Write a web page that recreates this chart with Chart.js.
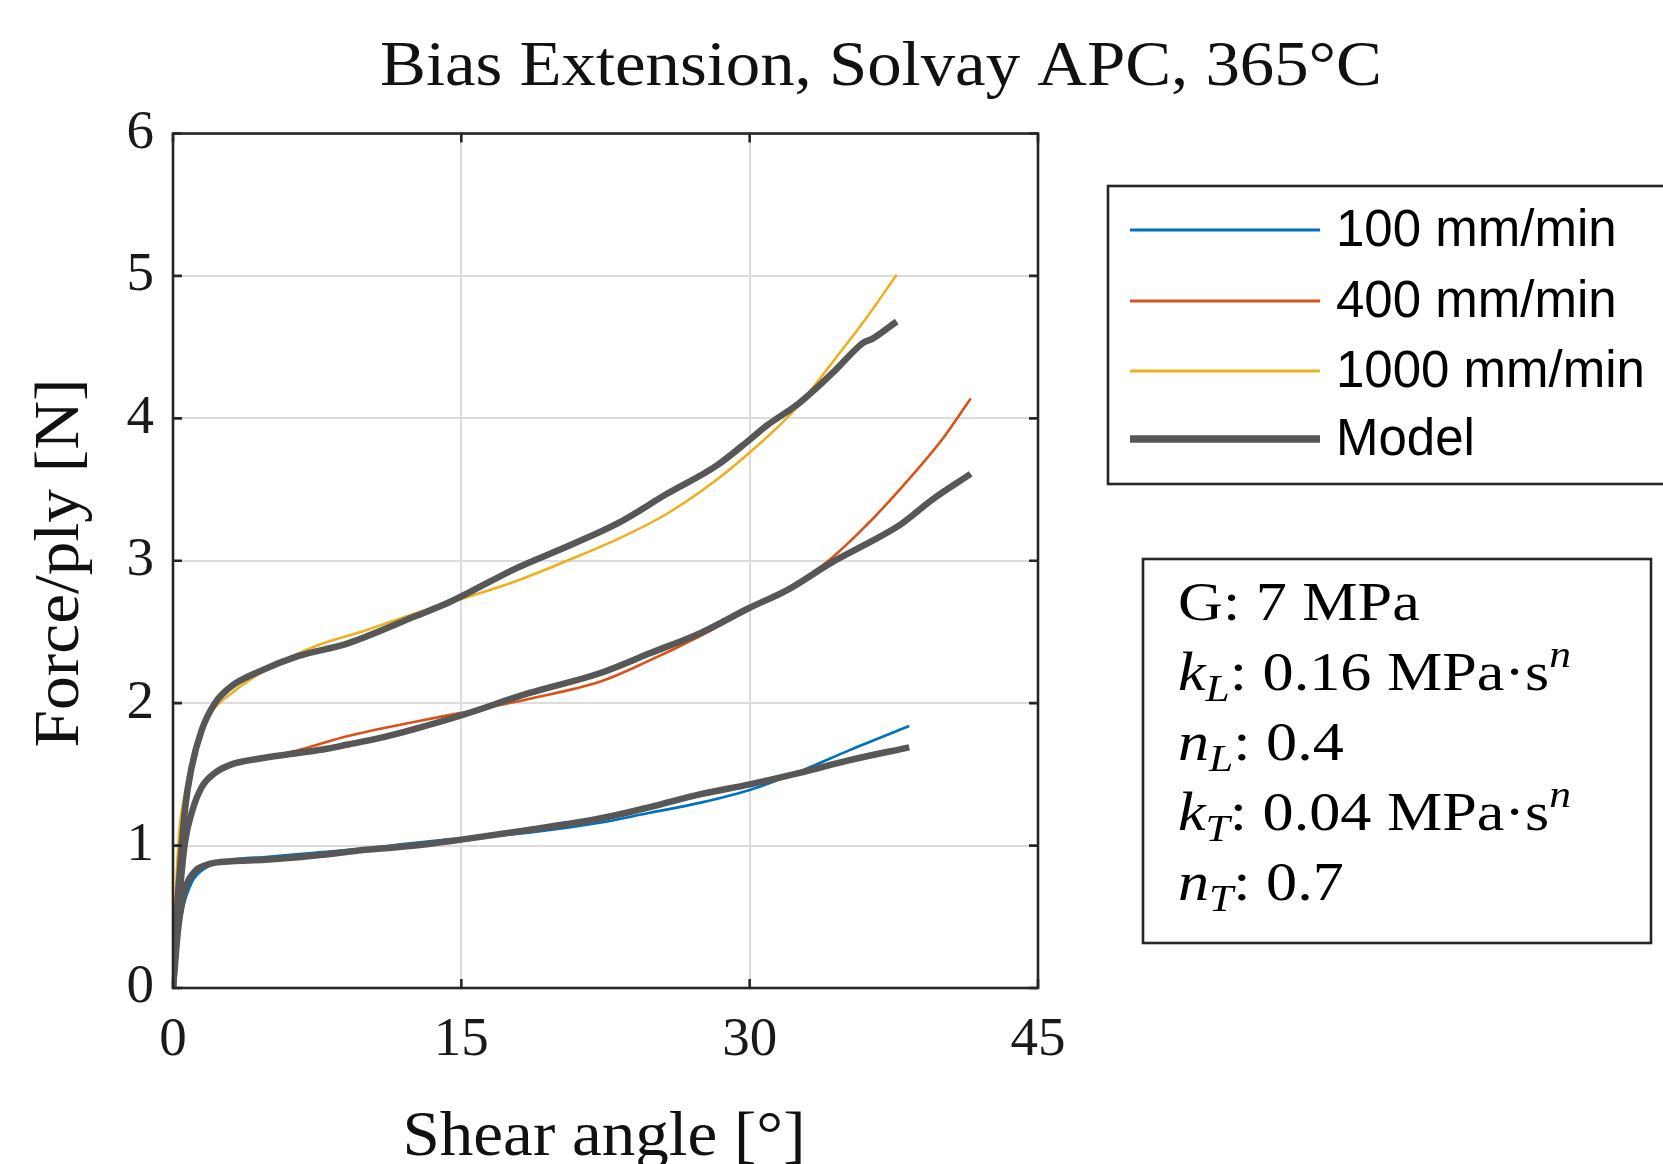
<!DOCTYPE html>
<html><head><meta charset="utf-8">
<script src="https://cdn.jsdelivr.net/npm/chart.js@4.4.1/dist/chart.umd.min.js"></script>
<style>html,body{margin:0;padding:0;background:#fff}#wrap{width:1663px;height:1164px;position:relative}</style>
</head><body><div id="wrap"><canvas id="c" width="1663" height="1164"></canvas></div>
<script>
// ---- data ----
const chartTitle = 'Bias Extension, Solvay APC, 365\u00B0C';
const xTitle = 'Shear angle [\u00B0]';
const yTitle = 'Force/ply [N]';
const xTicks = [0, 15, 30, 45];
const yTicks = [0, 1, 2, 3, 4, 5, 6];
const seriesLabels = ['100 mm/min', '400 mm/min', '1000 mm/min', 'Model'];

const angle100 = [0, 0.2, 0.5, 0.97, 1.66, 3.05, 4.8, 7.4, 10, 12.6, 15, 18.5, 22.2, 24.8, 27.4, 30, 32.6, 35.2, 38.3];
const force100 = [0, 0.3, 0.55, 0.74, 0.84, 0.90, 0.92, 0.95, 0.98, 1.02, 1.05, 1.09, 1.16, 1.23, 1.30, 1.39, 1.52, 1.67, 1.84];

const angle400 = [0, 0.1, 0.3, 0.62, 0.97, 1.49, 2.18, 3.05, 4.5, 6.5, 9.1, 12.6, 14.9, 18.5, 22.2, 24.8, 27.4, 30, 32, 34, 36, 38, 40, 41.5];
const force400 = [0, 0.5, 0.85, 1.05, 1.23, 1.40, 1.52, 1.57, 1.61, 1.67, 1.77, 1.87, 1.93, 2.03, 2.15, 2.30, 2.47, 2.66, 2.81, 2.99, 3.24, 3.53, 3.85, 4.14];

const angle1000 = [0, 0.1, 0.28, 0.62, 1.14, 1.84, 3.05, 4.79, 7.4, 10, 12.6, 15.45, 17.9, 20.5, 23.1, 25.7, 28.3, 30, 31.7, 32.6, 34.4, 36.1, 37.65];
const force1000 = [0, 0.48, 1.02, 1.37, 1.69, 1.91, 2.07, 2.23, 2.40, 2.51, 2.63, 2.75, 2.86, 3.00, 3.15, 3.33, 3.57, 3.76, 3.97, 4.10, 4.41, 4.71, 5.01];

const angleModel100 = [0, 0.28, 0.62, 1.14, 1.66, 2.2, 3.05, 4.8, 7.4, 10, 12.6, 14.9, 18.5, 22.2, 24.8, 27.4, 30, 32.6, 35.2, 38.3];
const forceModel100 = [0, 0.43, 0.69, 0.82, 0.86, 0.88, 0.89, 0.90, 0.93, 0.97, 1.00, 1.04, 1.11, 1.19, 1.27, 1.36, 1.43, 1.51, 1.60, 1.69];

const angleModel400 = [0, 0.28, 0.62, 0.97, 1.49, 2.18, 3.05, 4.44, 6.5, 8, 9.1, 10.9, 12.6, 14.9, 18.5, 22.2, 24.8, 27.4, 30, 31.9, 34.3, 36.1, 37.8, 39.5, 41.5];
const forceModel400 = [0, 0.55, 1.02, 1.23, 1.41, 1.51, 1.57, 1.61, 1.65, 1.68, 1.71, 1.76, 1.82, 1.91, 2.07, 2.21, 2.35, 2.49, 2.67, 2.79, 2.99, 3.12, 3.25, 3.43, 3.61];

const angleModel1000 = [0, 0.28, 0.62, 0.97, 1.49, 2.18, 3.05, 4.44, 6.5, 9.1, 12.6, 14.4, 17.9, 20.5, 23.1, 25.7, 28.3, 30, 30.9, 32.6, 34.4, 35.9, 36.4, 37.65];
const forceModel1000 = [0, 0.67, 1.25, 1.55, 1.81, 2.0, 2.12, 2.22, 2.33, 2.42, 2.61, 2.71, 2.95, 3.10, 3.26, 3.47, 3.67, 3.85, 3.95, 4.11, 4.33, 4.53, 4.56, 4.68];

const paramLines = [
  [{t:'G: 7 MPa'}],
  [{t:'k', it:true}, {t:'L', it:true, sub:true}, {t:': 0.16 MPa\u00B7s'}, {t:'n', it:true, sup:true}],
  [{t:'n', it:true}, {t:'L', it:true, sub:true}, {t:': 0.4'}],
  [{t:'k', it:true}, {t:'T', it:true, sub:true}, {t:': 0.04 MPa\u00B7s'}, {t:'n', it:true, sup:true}],
  [{t:'n', it:true}, {t:'T', it:true, sub:true}, {t:': 0.7'}]
];

// ---- styles ----
const SERIF = '"Liberation Serif", "DejaVu Serif", serif';
const SANS = '"Liberation Sans", Arial, sans-serif';
const COL = {c100:'#0072BD', c400:'#D95319', c1000:'#EDB120', model:'#575757', axis:'#262626', grid:'#dcdcdc'};

const pts = (xs, ys) => xs.map((x, i) => ({x: x, y: ys[i]}));
const expDs = (label, xs, ys, color) => ({label, data: pts(xs, ys), borderColor: color, backgroundColor: color,
  borderWidth: 2.6, pointRadius: 0, cubicInterpolationMode: 'monotone', order: 2, fill: false});
const modelDs = (xs, ys) => ({label: 'Model', data: pts(xs, ys), borderColor: COL.model, backgroundColor: COL.model,
  borderWidth: 6.5, pointRadius: 0, cubicInterpolationMode: 'monotone', order: 1, fill: false, borderCapStyle: 'butt'});

const datasets = [
  expDs(seriesLabels[0], angle100, force100, COL.c100),
  expDs(seriesLabels[1], angle400, force400, COL.c400),
  expDs(seriesLabels[2], angle1000, force1000, COL.c1000),
  modelDs(angleModel100, forceModel100),
  modelDs(angleModel400, forceModel400),
  modelDs(angleModel1000, forceModel1000)
];

function fitText(ctx, text, x, y, font, targetW, align, rot) {
  ctx.save();
  ctx.font = font;
  const w = ctx.measureText(text).width;
  const sx = targetW ? targetW / w : 1;
  ctx.translate(x, y);
  if (rot) ctx.rotate(rot);
  ctx.scale(sx, 1);
  ctx.textAlign = align || 'center';
  ctx.textBaseline = 'alphabetic';
  ctx.fillText(text, 0, 0);
  ctx.restore();
}

function richLine(ctx, segs, x, y, size, sx) {
  ctx.save();
  ctx.translate(x, y);
  ctx.scale(sx, 1);
  let cx = 0;
  ctx.textAlign = 'left';
  ctx.textBaseline = 'alphabetic';
  for (const s of segs) {
    const sz = (s.sub || s.sup) ? size * 0.7 : size;
    ctx.font = (s.it ? 'italic ' : '') + sz + 'px ' + SERIF;
    const dy = s.sub ? size * 0.2 : (s.sup ? -size * 0.42 : 0);
    ctx.fillText(s.t, cx, dy);
    cx += ctx.measureText(s.t).width;
  }
  ctx.restore();
}

const decor = {
  id: 'decor',
  afterDraw(chart) {
    const ctx = chart.ctx;
    const a = chart.chartArea;
    const xs = chart.scales.x, ys = chart.scales.y;
    ctx.save();
    // axes box
    ctx.strokeStyle = COL.axis;
    ctx.lineWidth = 2.6;
    ctx.strokeRect(a.left, a.top, a.right - a.left, a.bottom - a.top);
    // inward ticks
    const tl = 9;
    ctx.beginPath();
    xTicks.forEach(v => {
      const px = xs.getPixelForValue(v);
      ctx.moveTo(px, a.bottom); ctx.lineTo(px, a.bottom - tl);
      ctx.moveTo(px, a.top); ctx.lineTo(px, a.top + tl);
    });
    yTicks.forEach(v => {
      const py = ys.getPixelForValue(v);
      ctx.moveTo(a.left, py); ctx.lineTo(a.left + tl, py);
      ctx.moveTo(a.right, py); ctx.lineTo(a.right - tl, py);
    });
    ctx.stroke();

    // titles
    ctx.fillStyle = '#111';
    fitText(ctx, chartTitle, 881, 85, '64px ' + SERIF, 1002, 'center');
    fitText(ctx, xTitle, 604, 1155, '63px ' + SERIF, 403, 'center');
    fitText(ctx, yTitle, 78, 563, '63px ' + SERIF, 369, 'center', -Math.PI / 2);

    // legend
    ctx.lineWidth = 2.6;
    ctx.strokeStyle = COL.axis;
    ctx.fillStyle = '#fff';
    ctx.fillRect(1108, 186, 700, 298);
    ctx.strokeRect(1108, 186, 700, 298);
    const rows = [230, 301, 371, 439];
    const legendItems = [datasets[0], datasets[1], datasets[2], datasets[3]];
    legendItems.forEach((d, i) => {
      ctx.beginPath();
      ctx.strokeStyle = d.borderColor;
      ctx.lineWidth = i === 3 ? 7.5 : 3;
      ctx.moveTo(1130, rows[i]); ctx.lineTo(1320, rows[i]);
      ctx.stroke();
      ctx.fillStyle = '#000';
      ctx.font = '51px ' + SANS;
      ctx.textAlign = 'left';
      ctx.textBaseline = 'middle';
      ctx.fillText(seriesLabels[i], 1336, rows[i] + 2);
    });

    // parameter box
    ctx.lineWidth = 2.6;
    ctx.strokeStyle = COL.axis;
    ctx.strokeRect(1143, 559, 508, 384);
    ctx.fillStyle = '#000';
    const base = [620, 690, 760, 830, 900];
    paramLines.forEach((segs, i) => richLine(ctx, segs, 1178, base[i], 55, 1.13));
    ctx.restore();
  }
};

new Chart(document.getElementById('c'), {
  type: 'line',
  data: { datasets },
  options: {
    responsive: false,
    animation: false,
    devicePixelRatio: 1,
    layout: { padding: { left: 0, top: 133.5, right: 625, bottom: 0 } },
    plugins: { legend: { display: false }, title: { display: false }, tooltip: { enabled: false } },
    elements: { line: { borderJoinStyle: 'round' } },
    scales: {
      x: {
        type: 'linear', min: 0, max: 45,
        afterBuildTicks: s => { s.ticks = xTicks.map(v => ({value: v})); },
        afterFit: s => { s.height = 176; },
        ticks: { font: { family: SERIF, size: 55 }, color: '#1a1a1a', padding: 20, maxRotation: 0, autoSkip: false },
        grid: { color: COL.grid, lineWidth: 2, drawTicks: false, tickLength: 0 },
        border: { display: false }
      },
      y: {
        type: 'linear', min: 0, max: 6,
        afterBuildTicks: s => { s.ticks = yTicks.map(v => ({value: v})); },
        afterFit: s => { s.width = 173; },
        ticks: { font: { family: SERIF, size: 55 }, color: '#1a1a1a', padding: 19 },
        grid: { color: COL.grid, lineWidth: 2, drawTicks: false, tickLength: 0 },
        border: { display: false }
      }
    }
  },
  plugins: [decor]
});
</script>
</body></html>
